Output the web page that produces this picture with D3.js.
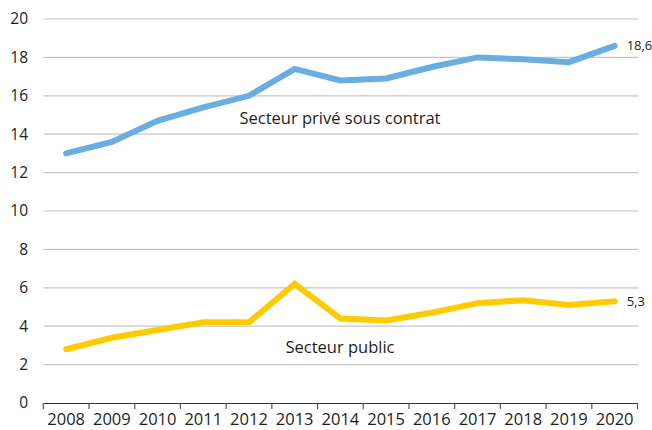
<!DOCTYPE html>
<html><head><meta charset="utf-8">
<script src="https://cdn.jsdelivr.net/npm/d3@7"></script>
<style>
body{margin:0;background:#fff;}
text{font-family:"Open Sans","Noto Sans",sans-serif;fill:#1e1e1e;}
</style></head>
<body><svg id="c" width="652" height="430"></svg>
<script>
const years = ["2008","2009","2010","2011","2012","2013","2014","2015","2016","2017","2018","2019","2020"];
const prive = [13.0,13.6,14.7,15.4,16.0,17.4,16.8,16.9,17.5,18.0,17.9,17.75,18.6];
const public_ = [2.8,3.4,3.8,4.2,4.2,6.2,4.4,4.3,4.7,5.2,5.35,5.1,5.3];
const yTicks = [0,2,4,6,8,10,12,14,16,18,20];
const seriesLabels = ["Secteur privé sous contrat","Secteur public"];
const endLabels = ["18,6","5,3"];

const svg = d3.select("#c");
const mLeft = 43.3, mRight = 637.5, mTop = 19, mBottom = 403;
const x = d3.scaleBand().domain(years).range([mLeft,mRight]);
const y = d3.scaleLinear().domain([0,20]).range([mBottom,mTop]);

// gridlines
svg.append("g").selectAll("line").data(yTicks.filter(d=>d>0)).join("line")
  .attr("x1",mLeft).attr("x2",mRight+1).attr("y1",d=>y(d)).attr("y2",d=>y(d))
  .attr("stroke","#c6c6c6").attr("stroke-width",1.2);

// y labels
svg.append("g").selectAll("text").data(yTicks).join("text")
  .attr("x",28).attr("y",d=>y(d)).attr("dy","0.35em").attr("text-anchor","end")
  .attr("font-size",15.5).text(d=>d);

// x axis
const xa = svg.append("g").attr("transform",`translate(0,${mBottom})`)
  .call(d3.axisBottom(x).tickSize(0).tickPadding(10));
xa.select(".domain").attr("stroke","#333").attr("stroke-width",1.2);
xa.selectAll("text").attr("font-size",16.5).style("font-family","'Open Sans','Noto Sans',sans-serif").attr("fill","#1e1e1e");
const tickPos = years.map(d=>x(d)).concat([mRight]);
xa.selectAll("line.tk").data(tickPos).join("line").attr("class","tk")
  .attr("x1",d=>d).attr("x2",d=>d).attr("y1",0).attr("y2",6)
  .attr("stroke","#555").attr("stroke-width",1.2);

const line = d3.line().x((d,i)=>x(years[i])+x.bandwidth()/2).y(d=>y(d));
const colors = ["#6aade0","#fdcb00"];
[prive, public_].forEach((s,k)=>{
  svg.append("path").datum(s).attr("d",line).attr("fill","none")
    .attr("stroke",colors[k]).attr("stroke-width",6).attr("stroke-linecap","round").attr("stroke-linejoin","miter");
  const last = s.length-1;
  svg.append("text").attr("x",x(years[last])+x.bandwidth()/2+12).attr("y",y(s[last])).attr("dy","0.35em")
    .attr("font-size",13).text(endLabels[k]);
});
svg.append("text").attr("x",340).attr("y",y(14.85)).attr("dy","0.35em").attr("text-anchor","middle").attr("font-size",16.5).text(seriesLabels[0]);
svg.append("text").attr("x",340).attr("y",y(2.92)).attr("dy","0.35em").attr("text-anchor","middle").attr("font-size",16.5).text(seriesLabels[1]);
</script></body></html>
